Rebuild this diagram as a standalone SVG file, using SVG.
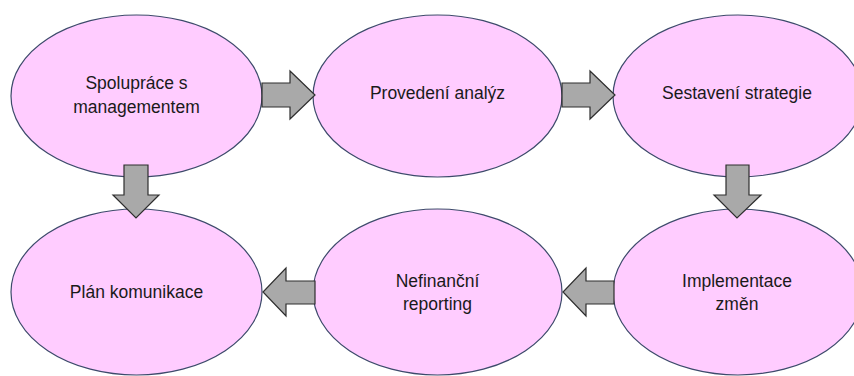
<svg xmlns="http://www.w3.org/2000/svg" width="854" height="376" viewBox="0 0 854 376">
<style>
.n{fill:#ffccff;stroke:#3d4a6b;stroke-width:1.2}
.t{font-family:"Liberation Sans",Arial,sans-serif;font-size:17.5px;fill:#1a1a1a;text-anchor:middle}
.a{fill:#a9a9a9;stroke:#2e2e2e;stroke-width:1.2;stroke-linejoin:miter}
</style>
<rect width="854" height="376" fill="#ffffff"/>
<g id="n1"><ellipse class="n" cx="136.5" cy="96" rx="125.5" ry="81"/><text class="t" x="136.5" y="89">Spolupráce s</text><text class="t" x="136.5" y="113">managementem</text></g>
<g id="n2"><ellipse class="n" cx="437.5" cy="96" rx="124.5" ry="81"/><text class="t" x="437.5" y="99">Provedení analýz</text></g>
<g id="n3"><ellipse class="n" cx="738" cy="96" rx="125" ry="81"/><text class="t" x="737" y="99">Sestavení strategie</text></g>
<g id="n4"><ellipse class="n" cx="136.5" cy="292" rx="125.5" ry="83"/><text class="t" x="136.5" y="298">Plán komunikace</text></g>
<g id="n5"><ellipse class="n" cx="437.5" cy="292" rx="124.5" ry="83"/><text class="t" x="437.5" y="287">Nefinanční</text><text class="t" x="437.5" y="310">reporting</text></g>
<g id="n6"><ellipse class="n" cx="738" cy="292" rx="125" ry="83"/><text class="t" x="737" y="287">Implementace</text><text class="t" x="737" y="310">změn</text></g>
<g id="connectors">
<polygon class="a" points="262,83 290,83 290,71 315,95 290,119 290,107 262,107"/>
<polygon class="a" points="562,83 590,83 590,71 615,95 590,119 590,107 562,107"/>
<polygon class="a" points="124,165 148,165 148,195 159,195 136,218 113,195 124,195"/>
<polygon class="a" points="726,165 749,165 749,195 761,195 737,218 714,195 726,195"/>
<polygon class="a" points="315,281 315,304 286,304 286,316 263,292 286,268 286,281"/>
<polygon class="a" points="614,281 614,304 586,304 586,316 563,292 586,268 586,281"/>
</g>
</svg>
